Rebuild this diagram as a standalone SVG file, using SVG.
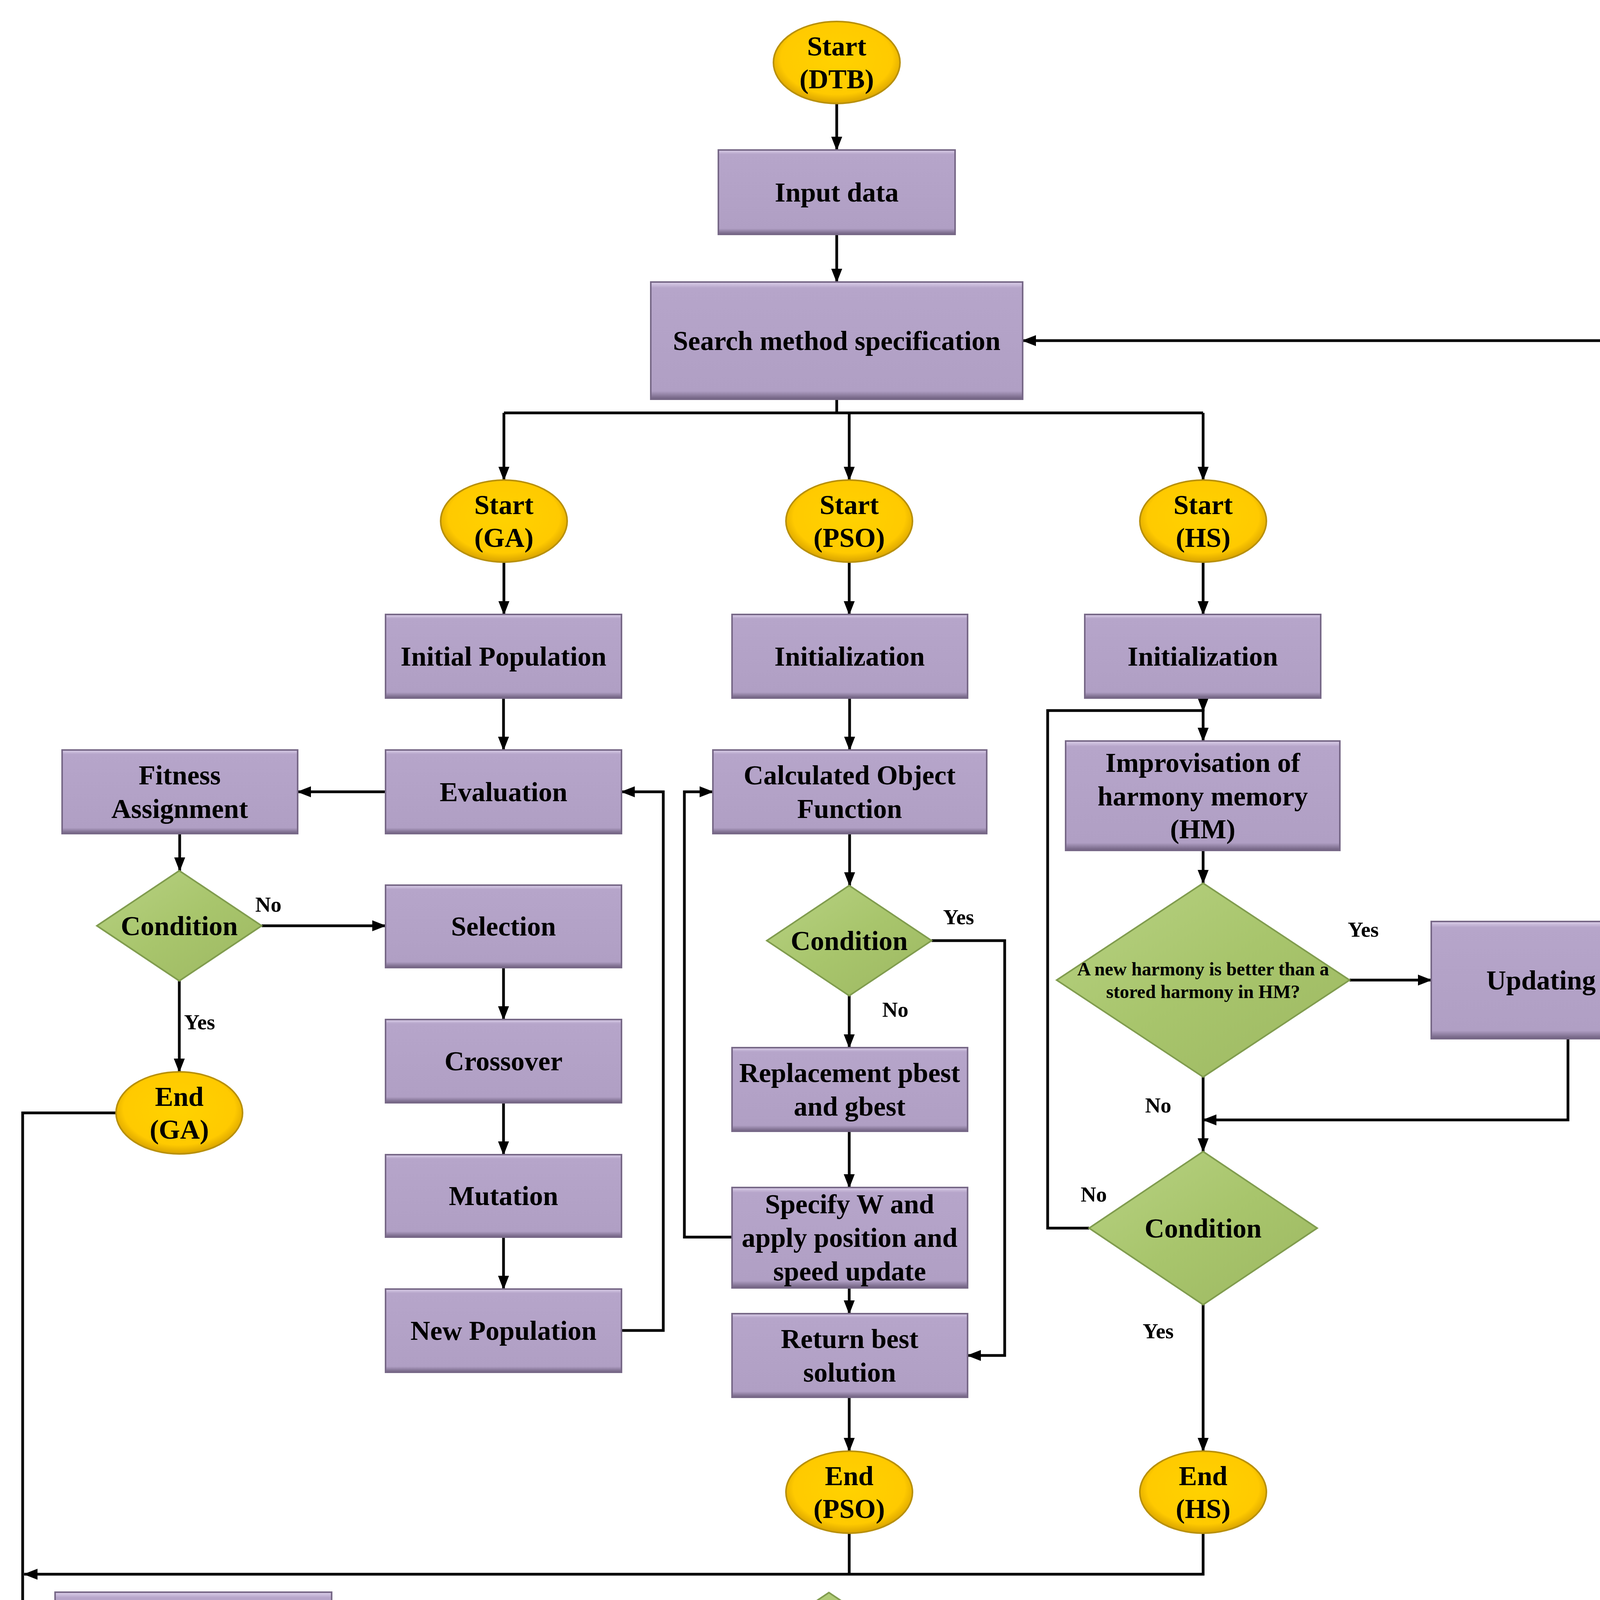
<svg xmlns="http://www.w3.org/2000/svg" width="4480" height="4504" viewBox="0 0 4480 4504">
<style>
.box{fill:url(#gp);stroke:#776887;stroke-width:4}
.term{fill:url(#gy);stroke:#B8900A;stroke-width:4}
.dec{fill:url(#gg);stroke:#809C4E;stroke-width:4}
.t{font-family:"Liberation Serif","Times New Roman",serif;font-weight:bold;font-size:70px;text-anchor:middle;dominant-baseline:central;fill:#000}
.s{font-size:55px}
.h{font-size:48px}
.c{fill:none;stroke:#000;stroke-width:7;marker-end:url(#ah)}
.n{fill:none;stroke:#000;stroke-width:7}
</style>
<defs>
<linearGradient id="gp" x1="0" y1="0" x2="0" y2="1">
<stop offset="0" stop-color="#DCD0EA"/><stop offset="0.05" stop-color="#B6A5CA"/><stop offset="0.93" stop-color="#B09FC4"/><stop offset="1" stop-color="#6E5F7E"/>
</linearGradient>
<radialGradient id="gy" cx="0.5" cy="0.45" r="0.55">
<stop offset="0" stop-color="#FFD200"/><stop offset="0.8" stop-color="#FFCA00"/><stop offset="1" stop-color="#D9A300"/>
</radialGradient>
<linearGradient id="gg" x1="0" y1="0" x2="1" y2="1">
<stop offset="0" stop-color="#B8D283"/><stop offset="0.5" stop-color="#A8C56C"/><stop offset="1" stop-color="#9DB862"/>
</linearGradient>
<marker id="ah" markerUnits="userSpaceOnUse" markerWidth="36" markerHeight="28" refX="34" refY="14" orient="auto">
<path d="M0,0 L36,14 L0,28 z" fill="#000"/>
</marker>
</defs>

<g id="connectors">
<path class="c" d="M2142,265 V384"/>
<path class="c" d="M2142,600 V722"/>
<path class="n" d="M2142,1022 V1057"/>
<path class="n" d="M1290,1057 H3080"/>
<path class="c" d="M1290,1057 V1229"/>
<path class="c" d="M2174,1057 V1229"/>
<path class="c" d="M3080,1057 V1229"/>
<path class="c" d="M1290,1439 V1573"/>
<path class="c" d="M2174,1439 V1573"/>
<path class="c" d="M3080,1439 V1573"/>
<path class="c" d="M1289,1787 V1920"/>
<path class="c" d="M987,2027 H762"/>
<path class="c" d="M460,2134 V2229"/>
<path class="c" d="M670,2370 H987"/>
<path class="c" d="M1289,2477 V2610"/>
<path class="c" d="M1289,2823 V2956"/>
<path class="c" d="M1289,3167 V3300"/>
<path class="c" d="M459,2511 V2744"/>
<path class="c" d="M1591,3406 H1698 V2027 H1591"/>
<path class="c" d="M297,2849 H58 V4218 H141"/>
<path class="c" d="M2175,1787 V1920"/>
<path class="c" d="M2175,2134 V2267"/>
<path class="c" d="M2385,2408 H2572 V3470 H2477"/>
<path class="c" d="M2174,2549 V2682"/>
<path class="c" d="M2174,2896 V3040"/>
<path class="c" d="M1874,3167 H1752 V2027 H1825"/>
<path class="c" d="M2174,3297 V3363"/>
<path class="c" d="M2174,3577 V3715"/>
<path class="n" d="M2174,3925 V4030"/>
<path class="c" d="M3080,3925 V4030 H62"/>
<path class="c" d="M3080,1787 V1821"/>
<path class="c" d="M2788,3144 H2682 V1819 H3080 V1897"/>
<path class="c" d="M3080,2177 V2261"/>
<path class="c" d="M3455,2509 H3664"/>
<path class="c" d="M4014,2659 V2867 H3080"/>
<path class="c" d="M3080,2757 V2948"/>
<path class="c" d="M3080,3340 V3715"/>
<path class="c" d="M849,4218 H1031"/>
<path class="c" d="M1689,4218 H1911"/>
<path class="c" d="M2333,4218 H2607"/>
<path class="c" d="M2122,4359 V4463 H4432 V872 H2618"/>
</g>

<g id="labels">
<text class="t s" x="687" y="2315">No</text>
<text class="t s" x="511" y="2616">Yes</text>
<text class="t s" x="2454" y="2347">Yes</text>
<text class="t s" x="2292" y="2584">No</text>
<text class="t s" x="3490" y="2379">Yes</text>
<text class="t s" x="2965" y="2829">No</text>
<text class="t s" x="2800" y="3057">No</text>
<text class="t s" x="2965" y="3407">Yes</text>
<text class="t s" x="2411" y="4134">Yes</text>
<text class="t s" x="2281" y="4400">No</text>
</g>

<g id="start-dtb"><ellipse class="term" cx="2142" cy="160" rx="162" ry="105"/><text class="t" x="2142" y="118">Start</text><text class="t" x="2142" y="202">(DTB)</text></g>
<g id="input-data"><rect class="box" x="1839" y="384" width="606" height="216"/><text class="t" x="2142" y="492">Input data</text></g>
<g id="search-method"><rect class="box" x="1666" y="722" width="952" height="300"/><text class="t" x="2142" y="872">Search method specification</text></g>

<g id="start-ga"><ellipse class="term" cx="1290" cy="1334" rx="162" ry="105"/><text class="t" x="1290" y="1292">Start</text><text class="t" x="1290" y="1376">(GA)</text></g>
<g id="start-pso"><ellipse class="term" cx="2174" cy="1334" rx="162" ry="105"/><text class="t" x="2174" y="1292">Start</text><text class="t" x="2174" y="1376">(PSO)</text></g>
<g id="start-hs"><ellipse class="term" cx="3080" cy="1334" rx="162" ry="105"/><text class="t" x="3080" y="1292">Start</text><text class="t" x="3080" y="1376">(HS)</text></g>

<g id="initial-population"><rect class="box" x="987" y="1573" width="604" height="214"/><text class="t" x="1289" y="1680">Initial Population</text></g>
<g id="init-pso"><rect class="box" x="1874" y="1573" width="603" height="214"/><text class="t" x="2175" y="1680">Initialization</text></g>
<g id="init-hs"><rect class="box" x="2777" y="1573" width="604" height="214"/><text class="t" x="3079" y="1680">Initialization</text></g>

<g id="evaluation"><rect class="box" x="987" y="1920" width="604" height="214"/><text class="t" x="1289" y="2027">Evaluation</text></g>
<g id="fitness"><rect class="box" x="159" y="1920" width="603" height="214"/><text class="t" x="460" y="1984">Fitness</text><text class="t" x="460" y="2070">Assignment</text></g>
<g id="cond-ga"><polygon class="dec" points="459,2229 670,2370 459,2511 248,2370"/><text class="t" x="459" y="2370">Condition</text></g>
<g id="selection"><rect class="box" x="987" y="2266" width="604" height="211"/><text class="t" x="1289" y="2371">Selection</text></g>
<g id="crossover"><rect class="box" x="987" y="2610" width="604" height="213"/><text class="t" x="1289" y="2716">Crossover</text></g>
<g id="mutation"><rect class="box" x="987" y="2956" width="604" height="211"/><text class="t" x="1289" y="3061">Mutation</text></g>
<g id="new-population"><rect class="box" x="987" y="3300" width="604" height="213"/><text class="t" x="1289" y="3406">New Population</text></g>
<g id="end-ga"><ellipse class="term" cx="459" cy="2849" rx="162" ry="105"/><text class="t" x="459" y="2807">End</text><text class="t" x="459" y="2891">(GA)</text></g>

<g id="calc-object"><rect class="box" x="1825" y="1920" width="701" height="214"/><text class="t" x="2175" y="1984">Calculated Object</text><text class="t" x="2175" y="2070">Function</text></g>
<g id="cond-pso"><polygon class="dec" points="2174,2267 2385,2408 2174,2549 1963,2408"/><text class="t" x="2174" y="2408">Condition</text></g>
<g id="replacement"><rect class="box" x="1874" y="2682" width="603" height="214"/><text class="t" x="2175" y="2746">Replacement pbest</text><text class="t" x="2175" y="2832">and gbest</text></g>
<g id="specify"><rect class="box" x="1874" y="3040" width="603" height="257"/><text class="t" x="2175" y="3082">Specify W and</text><text class="t" x="2175" y="3168">apply position and</text><text class="t" x="2175" y="3254">speed update</text></g>
<g id="return-best"><rect class="box" x="1874" y="3363" width="603" height="214"/><text class="t" x="2175" y="3427">Return best</text><text class="t" x="2175" y="3513">solution</text></g>
<g id="end-pso"><ellipse class="term" cx="2174" cy="3820" rx="162" ry="105"/><text class="t" x="2174" y="3778">End</text><text class="t" x="2174" y="3862">(PSO)</text></g>

<g id="improvisation"><rect class="box" x="2728" y="1897" width="702" height="280"/><text class="t" x="3079" y="1952">Improvisation of</text><text class="t" x="3079" y="2038">harmony memory</text><text class="t" x="3079" y="2122">(HM)</text></g>
<g id="new-harmony"><polygon class="dec" points="3080,2261 3455,2509 3080,2757 2705,2509"/><text class="t h" x="3080" y="2480">A new harmony is better than a</text><text class="t h" x="3080" y="2538">stored harmony in HM?</text></g>
<g id="updating-hm"><rect class="box" x="3664" y="2359" width="701" height="300"/><text class="t" x="4014" y="2509">Updating HM</text></g>
<g id="cond-hs"><polygon class="dec" points="3080,2948 3372,3144 3080,3340 2788,3144"/><text class="t" x="3080" y="3144">Condition</text></g>
<g id="end-hs"><ellipse class="term" cx="3080" cy="3820" rx="162" ry="105"/><text class="t" x="3080" y="3778">End</text><text class="t" x="3080" y="3862">(HS)</text></g>

<g id="cross-validation"><rect class="box" x="141" y="4076" width="708" height="283"/><text class="t" x="495" y="4175">Cross validation to</text><text class="t" x="495" y="4261">evaluate features</text></g>
<g id="performance"><rect class="box" x="1031" y="4111" width="658" height="214"/><text class="t" x="1360" y="4175">Performance</text><text class="t" x="1360" y="4261">evaluation measure</text></g>
<g id="convergence"><polygon class="dec" points="2122,4077 2333,4218 2122,4359 1911,4218"/><text class="t" x="2122" y="4218">Convergence</text></g>
<g id="end-dtb"><ellipse class="term" cx="2769" cy="4218" rx="162" ry="105"/><text class="t" x="2769" y="4176">End</text><text class="t" x="2769" y="4260">(DTB)</text></g>
</svg>
